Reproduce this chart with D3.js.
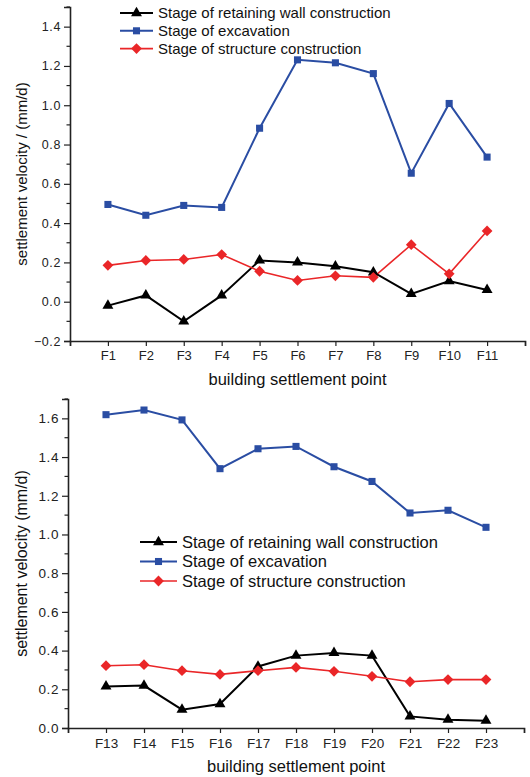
<!DOCTYPE html>
<html>
<head>
<meta charset="utf-8">
<script src="https://cdn.jsdelivr.net/npm/d3@7"></script>
<style>
  body { margin: 0; background: #fff; }
  svg { display: block; font-family: 'Liberation Sans', Arial, sans-serif; }
</style>
</head>
<body>
<svg id="chart" width="530" height="777"></svg>
<script>
// Series names (legend)
const seriesNames = [
  'Stage of retaining wall construction',
  'Stage of excavation',
  'Stage of structure construction'
];

// Upper panel: points F1..F11
const topPoints = ['F1', 'F2', 'F3', 'F4', 'F5', 'F6', 'F7', 'F8', 'F9', 'F10', 'F11'];
const topWall = [-0.02, 0.032, -0.10, 0.032, 0.21, 0.20, 0.18, 0.15, 0.04, 0.105, 0.06];
const topExcavation = [0.495, 0.44, 0.49, 0.48, 0.883, 1.231, 1.216, 1.161, 0.654, 1.009, 0.736];
const topStructure = [0.185, 0.21, 0.215, 0.24, 0.155, 0.108, 0.132, 0.124, 0.29, 0.142, 0.36];
const topYTicks = [-0.2, 0.0, 0.2, 0.4, 0.6, 0.8, 1.0, 1.2, 1.4];

// Lower panel: points F13..F23
const bottomPoints = ['F13', 'F14', 'F15', 'F16', 'F17', 'F18', 'F19', 'F20', 'F21', 'F22', 'F23'];
const bottomWall = [0.215, 0.219, 0.095, 0.124, 0.318, 0.374, 0.388, 0.374, 0.06, 0.043, 0.038];
const bottomExcavation = [1.619, 1.643, 1.592, 1.340, 1.443, 1.455, 1.350, 1.274, 1.111, 1.125, 1.037];
const bottomStructure = [0.322, 0.327, 0.296, 0.277, 0.296, 0.313, 0.293, 0.267, 0.239, 0.25, 0.25];
const bottomYTicks = [0.0, 0.2, 0.4, 0.6, 0.8, 1.0, 1.2, 1.4, 1.6];

const colors = ['#000000', '#2a4da3', '#ea2628'];
const lineWidths = [2, 2, 1.6];

const svg = d3.select('#chart');

function drawMarker(g, i, x, y) {
  if (i === 0) {
    g.append('path')
      .attr('d', d3.symbol(d3.symbolTriangle, 52)())
      .attr('transform', `translate(${x},${y})`)
      .attr('fill', colors[0]);
  } else if (i === 1) {
    g.append('path')
      .attr('d', d3.symbol(d3.symbolSquare, 50)())
      .attr('transform', `translate(${x},${y})`)
      .attr('fill', colors[1]);
  } else {
    g.append('path')
      .attr('d', d3.symbol(d3.symbolSquare, 58)())
      .attr('transform', `translate(${x},${y}) rotate(45)`)
      .attr('fill', colors[2]);
  }
}

function drawPanel(opts) {
  const g = svg.append('g');
  const x = d3.scaleLinear().domain(opts.xDomain).range([opts.left, opts.right]);
  const y = d3.scaleLinear().domain(opts.yDomain).range([opts.bottom, opts.top]);
  const idx = opts.points.map((p, i) => opts.xDomain[0] + i + 1);

  // minor y ticks (every 0.1)
  const minor = d3.range(opts.yDomain[0] + 0.1, opts.yDomain[1] + 0.001, 0.2);
  g.selectAll('.minor').data(minor).enter().append('line')
    .attr('x1', opts.left - 3.5).attr('x2', opts.left)
    .attr('y1', d => y(d)).attr('y2', d => y(d))
    .attr('stroke', '#222').attr('stroke-width', 1.2);

  // y axis
  const yAxis = d3.axisLeft(y).tickValues(opts.yTicks).tickFormat(d3.format('.1f'))
    .tickSize(6).tickPadding(3);
  const ya = g.append('g').attr('transform', `translate(${opts.left},0)`).call(yAxis);
  ya.select('.domain').attr('stroke', '#222').attr('stroke-width', 1.6);
  ya.selectAll('.tick line').attr('stroke', '#222').attr('stroke-width', 1.2);
  ya.selectAll('.tick text').attr('font-size', opts.yTickSize).attr('fill', '#222')
    .attr('letter-spacing', 0.6).attr('font-family', 'Liberation Sans, Arial, sans-serif');

  // x axis
  const xTicks = d3.range(opts.xDomain[0], opts.xDomain[1] + 1);
  const labelOf = new Map(idx.map((v, i) => [v, opts.points[i]]));
  const xAxis = d3.axisBottom(x).tickValues(xTicks).tickFormat(d => labelOf.get(d) || '')
    .tickSize(5).tickPadding(5);
  const xa = g.append('g').attr('transform', `translate(0,${opts.bottom})`).call(xAxis);
  xa.select('.domain').attr('stroke', '#222').attr('stroke-width', 1.6);
  xa.selectAll('.tick line').attr('stroke', '#222').attr('stroke-width', 1.2);
  xa.selectAll('.tick text').attr('font-size', opts.xTickSize).attr('fill', '#222')
    .attr('font-family', 'Liberation Sans, Arial, sans-serif');

  // titles
  g.append('text')
    .attr('x', (opts.left + opts.right) / 2).attr('y', opts.bottom + 44)
    .attr('text-anchor', 'middle').attr('font-size', 16.5).attr('fill', '#111')
    .text('building settlement point');
  g.append('text')
    .attr('transform', `translate(27,${(opts.top + opts.bottom) / 2}) rotate(-90)`)
    .attr('text-anchor', 'middle').attr('font-size', opts.yTitleSize).attr('fill', '#111')
    .text(opts.yTitle);

  // series
  const line = d3.line().x((d, i) => x(idx[i])).y(d => y(d));
  opts.series.forEach((vals, s) => {
    g.append('path').datum(vals)
      .attr('d', line)
      .attr('fill', 'none')
      .attr('stroke', colors[s])
      .attr('stroke-width', lineWidths[s]);
  });
  opts.series.forEach((vals, s) => {
    vals.forEach((v, i) => drawMarker(g, s, x(idx[i]), y(v)));
  });

  // legend
  const lg = g.append('g');
  seriesNames.forEach((name, s) => {
    const ly = opts.legendY + s * opts.legendGap;
    lg.append('line')
      .attr('x1', opts.legendX).attr('x2', opts.legendX + opts.legendLen)
      .attr('y1', ly).attr('y2', ly)
      .attr('stroke', colors[s]).attr('stroke-width', lineWidths[s]);
    drawMarker(lg, s, opts.legendX + opts.legendLen / 2, ly);
    lg.append('text')
      .attr('x', opts.legendX + opts.legendLen + 5).attr('y', ly)
      .attr('dy', '0.36em').attr('font-size', opts.legendSize).attr('fill', '#111')
      .text(name);
  });
}

drawPanel({
  points: topPoints,
  series: [topWall, topExcavation, topStructure],
  yTicks: topYTicks,
  xDomain: [0, 12], yDomain: [-0.2, 1.5],
  left: 70, right: 525, top: 7, bottom: 341,
  yTitle: 'settlement velocity / (mm/d)', yTitleSize: 15,
  yTickSize: 12.5, xTickSize: 13,
  legendX: 120, legendLen: 33, legendY: 13, legendGap: 17.8, legendSize: 15
});

drawPanel({
  points: bottomPoints,
  series: [bottomWall, bottomExcavation, bottomStructure],
  yTicks: bottomYTicks,
  xDomain: [12, 24], yDomain: [0, 1.7],
  left: 68, right: 524, top: 399, bottom: 728,
  yTitle: 'settlement velocity  (mm/d)', yTitleSize: 16,
  yTickSize: 13.5, xTickSize: 13.5,
  legendX: 140, legendLen: 37, legendY: 542, legendGap: 19.5, legendSize: 16.5
});
</script>
</body>
</html>
